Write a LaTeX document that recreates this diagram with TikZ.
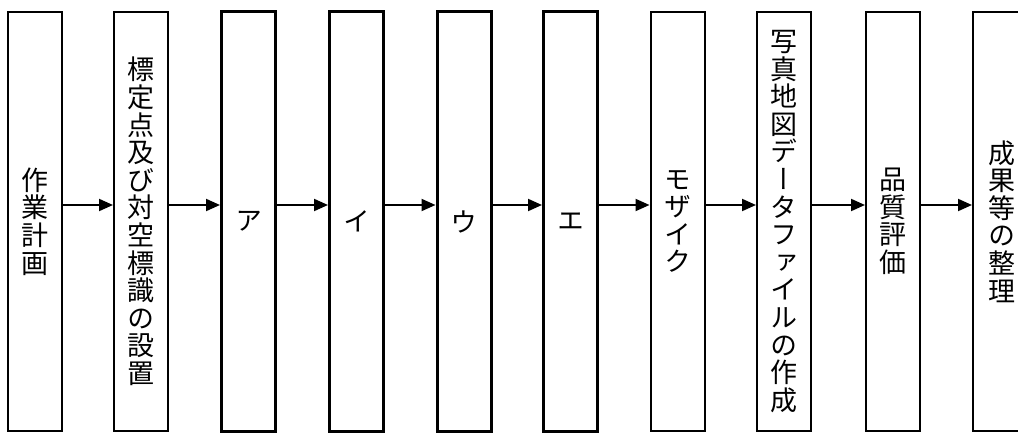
\documentclass[tikz,border=0pt]{standalone}
\usepackage{fontspec}
\usetikzlibrary{arrows.meta}
\newfontfamily\vjp[RawFeature=+vert]{Noto Sans CJK JP}
\makeatletter
\newcommand{\vtext}[1]{\vbox{\vjp\fontsize{13.5}{13.8}\selectfont
  \baselineskip=13.8pt \lineskiplimit=-100pt
  \@tfor\ch:=#1\do{\hbox to 13.8pt{\hss\ch\hss}}}}
\makeatother
\tikzset{
  stepbox/.style={draw, line width=1pt, minimum width=27pt, minimum height=209.5pt, inner sep=0pt},
  thickbox/.style={stepbox, line width=1.5pt},
  arr/.style={line width=1pt, -{Triangle[length=7pt,width=6pt]}}
}
\begin{document}
\begin{tikzpicture}[x=0.5pt,y=-0.5pt]
\useasboundingbox (0,0) rectangle (1018,433);
\clip (0,0) rectangle (1018,433);
\node[stepbox]  (b1)  at (35,221.5)   {\vtext{作業計画}};
\node[stepbox]  (b2)  at (141,221.5)  {\vtext{標定点及び対空標識の設置}};
\node[thickbox] (b3)  at (248.5,221.5) {\vtext{ア}};
\node[thickbox] (b4)  at (356.5,221.5) {\vtext{イ}};
\node[thickbox] (b5)  at (464,221.5)  {\vtext{ウ}};
\node[thickbox] (b6)  at (570.5,221.5) {\vtext{エ}};
\node[stepbox]  (b7)  at (677.5,221.5) {\vtext{モザイク}};
\node[stepbox]  (b8)  at (784,221.5)  {\vtext{写真地図データファイルの作成}};
\node[stepbox]  (b9)  at (893,221.5)  {\vtext{品質評価}};
\node[stepbox, minimum width=29pt]  (b10) at (1002,221.5) {\vtext{成果等の整理}};
\foreach \a/\b in {b1/b2,b2/b3,b3/b4,b4/b5,b5/b6,b6/b7,b7/b8,b8/b9,b9/b10}
  \draw[arr] ([yshift=8.25pt]\a.east) -- ([yshift=8.25pt]\b.west);
\end{tikzpicture}
\end{document}
